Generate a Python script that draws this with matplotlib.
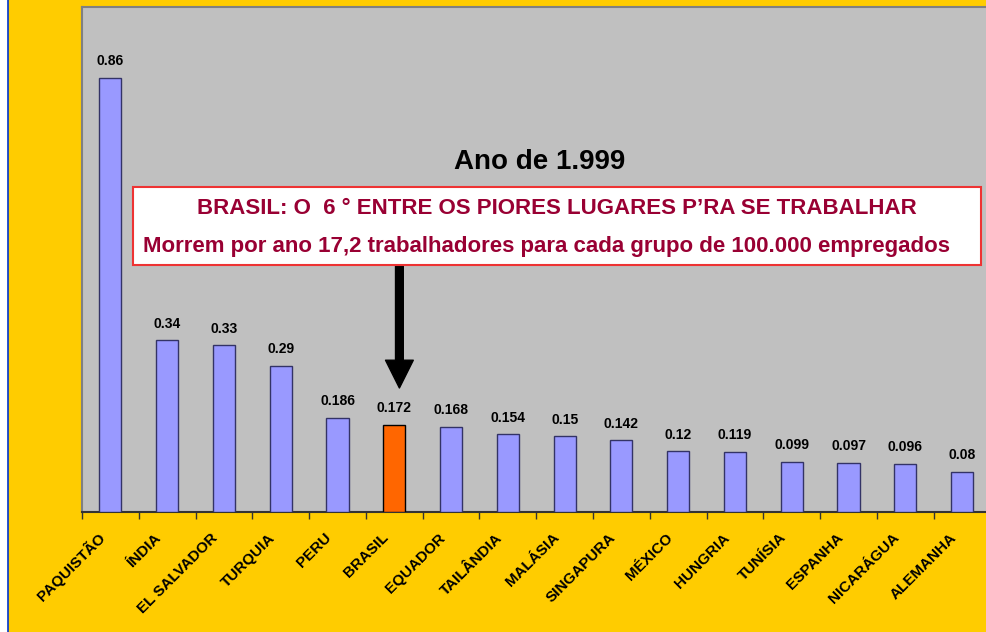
import matplotlib
matplotlib.use("Agg")
import matplotlib.pyplot as plt
import matplotlib.transforms as mtransforms
from matplotlib.patches import Rectangle, FancyArrowPatch
from matplotlib.lines import Line2D

plt.rcParams['font.family'] = ['Liberation Sans', 'DejaVu Sans']

countries = ["PAQUISTÃO", "ÍNDIA", "EL SALVADOR", "TURQUIA", "PERU", "BRASIL",
             "EQUADOR", "TAILÂNDIA", "MALÁSIA", "SINGAPURA", "MÉXICO", "HUNGRIA",
             "TUNÍSIA", "ESPANHA", "NICARÁGUA", "ALEMANHA"]
values = [0.86, 0.34, 0.33, 0.29, 0.186, 0.172, 0.168, 0.154, 0.15, 0.142,
          0.12, 0.119, 0.099, 0.097, 0.096, 0.08]
value_labels = ["0.86", "0.34", "0.33", "0.29", "0.186", "0.172", "0.168", "0.154",
                "0.15", "0.142", "0.12", "0.119", "0.099", "0.097", "0.096", "0.08"]
highlight = "BRASIL"

title = "Ano de 1.999"
line1 = "BRASIL: O  6 ° ENTRE OS PIORES LUGARES P\u2019RA SE TRABALHAR"
line2 = "Morrem por ano 17,2 trabalhadores para cada grupo de 100.000 empregados"

W, H = 987, 632
fig = plt.figure(figsize=(W / 100, H / 100), dpi=100)
fig.patch.set_facecolor('#FFCC00')

# white strip + blue line at left
fig.patches.append(Rectangle((0, 0), 8 / W, 1, transform=fig.transFigure,
                             facecolor='white', edgecolor='none', zorder=0))
fig.lines.append(Line2D([8.5 / W, 8.5 / W], [0, 1], transform=fig.transFigure,
                        color='#0033CC', lw=1.2))

left, right, top, bottom = 82, 990.5, 7, 512
ax = fig.add_axes([left / W, (H - bottom) / H, (right - left) / W, (bottom - top) / H])
ax.set_facecolor('#C0C0C0')

n = len(countries)
x = list(range(n))
colors = ['#FF6600' if c == highlight else '#9999FF' for c in countries]
edges = ['#000000' if c == highlight else '#333366' for c in countries]
bars = ax.bar(x, values, width=0.39, color=colors, edgecolor=edges, linewidth=1.0, zorder=3)

for xi, v, lab in zip(x, values, value_labels):
    ax.annotate(lab, (xi, v), xytext=(0, 7), textcoords='offset points',
                ha='center', va='bottom', fontsize=10, fontweight='bold', color='black')

ax.set_xlim(-0.5, n - 0.5)
ax.set_ylim(0, 1.0)
ax.set_yticks([])
ax.set_xticks(x)
ax.set_xticklabels(countries, rotation=45, ha='right', va='center',
                   rotation_mode='anchor', fontsize=11, fontweight='bold')
ax.tick_params(axis='x', which='major', length=0, pad=17)
shift = mtransforms.ScaledTranslation(-8 / 100, 0, fig.dpi_scale_trans)
for lbl in ax.get_xticklabels():
    lbl.set_transform(lbl.get_transform() + shift)
ax.set_xticks([i - 0.5 for i in range(n + 1)], minor=True)
ax.tick_params(axis='x', which='minor', length=5, width=1, color='#333333', direction='out')

for s in ['left', 'top']:
    ax.spines[s].set_color('#808080')
    ax.spines[s].set_linewidth(1.5)
ax.spines['right'].set_visible(False)
ax.spines['bottom'].set_color('#333333')
ax.spines['bottom'].set_linewidth(1.5)

# title
fig.text(540 / W, 1 - 162 / H, title, ha='center', va='center',
         fontsize=20, fontweight='bold', color='black')

# text box
fig.patches.append(Rectangle((133 / W, 1 - 265 / H), (981 - 133) / W, (265 - 187) / H,
                             transform=fig.transFigure, facecolor='white',
                             edgecolor='#EE3333', lw=1.5, zorder=5))
fig.text(557 / W, 1 - 209 / H, line1, ha='center', va='center',
         fontsize=16, fontweight='bold', color='#990033', zorder=6)
fig.text(547 / W, 1 - 246 / H, line2, ha='center', va='center',
         fontsize=16, fontweight='bold', color='#990033', zorder=6)

# arrow
bx = countries.index(highlight) + 0.09
y_start = (bottom - 266) / (bottom - top)
y_tip = (bottom - 388) / (bottom - top)
arrow = FancyArrowPatch((bx, y_start), (bx, y_tip), transform=ax.get_xaxis_transform(),
                        arrowstyle='simple,head_length=1.0,head_width=1.0,tail_width=0.28',
                        mutation_scale=20, color='black', shrinkA=0, shrinkB=0, zorder=6)
ax.add_patch(arrow)

fig.savefig('out.png', dpi=100, facecolor=fig.get_facecolor())
